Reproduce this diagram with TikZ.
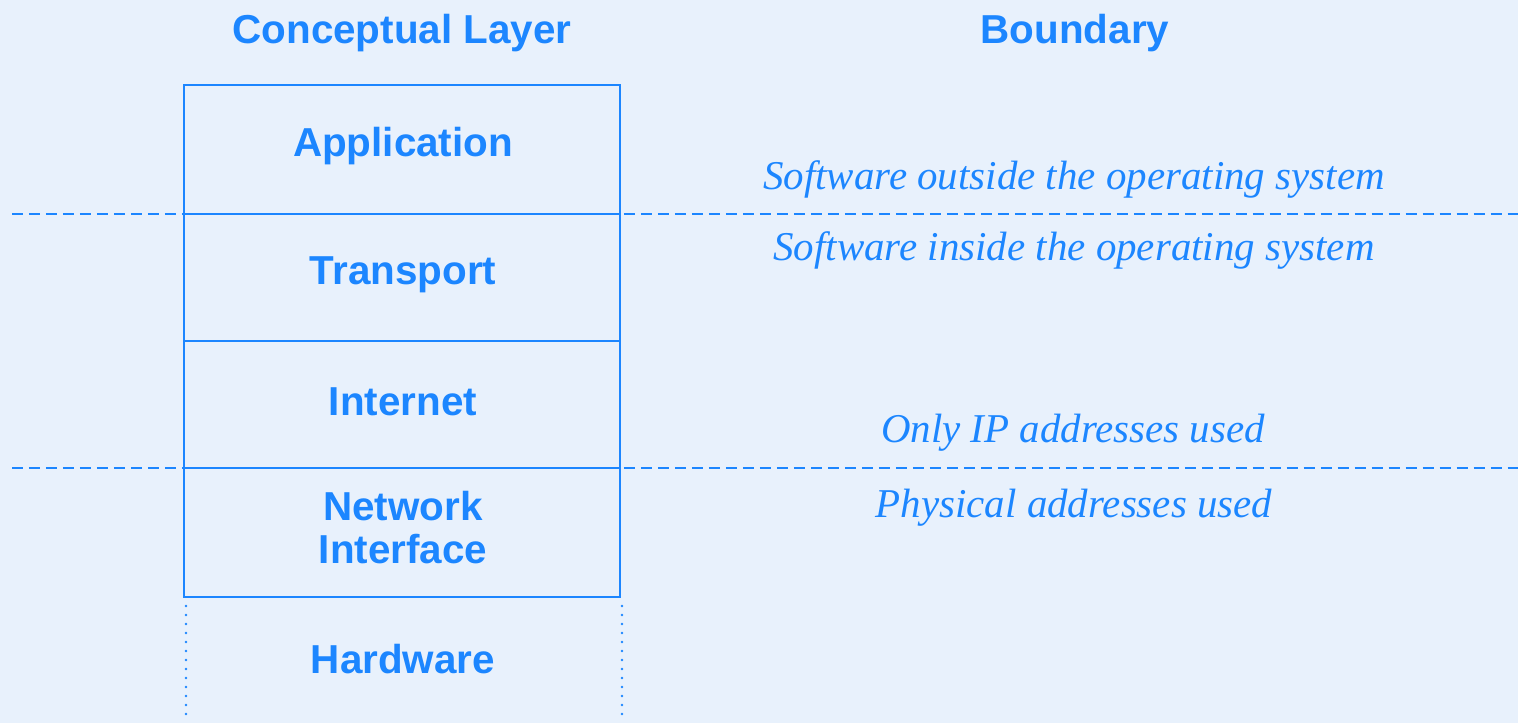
\documentclass[tikz,border=0pt]{standalone}
\usepackage{fontspec}
\setmainfont{Liberation Serif}
\setsansfont{Liberation Sans}
\definecolor{bgc}{HTML}{E8F1FC}
\definecolor{bl}{HTML}{1C86FF}
\begin{document}
\begin{tikzpicture}[x=0.02cm,y=-0.02cm,
  layer/.style={font=\sffamily\bfseries\fontsize{23}{24.5}\selectfont, text=bl, align=center},
  bound/.style={font=\itshape\fontsize{23.3}{27}\selectfont, text=bl},
  boxline/.style={draw=bl, line width=1.5pt},
  sepline/.style={draw=bl, line width=1.5pt, dash pattern=on 0.22cm off 0.12cm},
  dotline/.style={draw=bl, line width=1.6pt, dash pattern=on 0pt off 0.18cm, line cap=round}]
\fill[bgc] (0,0) rectangle (1518,723);
\useasboundingbox (0,0) rectangle (1518,723);
% headers
\node[layer] (hcl) at (402,33) {Conceptual Layer};
\node[layer] (hbd) at (1075,33) {Boundary};
% coordinates
\coordinate (tl) at (184,85);
\coordinate (br) at (620,597);
\coordinate (s1l) at (12,214);
\coordinate (s1r) at (1518,214);
\coordinate (s2l) at (12,468);
\coordinate (s2r) at (1518,468);
\coordinate (l3a) at (184,341);
\coordinate (l3b) at (620,341);
\coordinate (hwla) at (186,606);
\coordinate (hwlb) at (186,715);
\coordinate (hwra) at (622,606);
\coordinate (hwrb) at (622,715);
% separators
\draw[sepline] (s1l) -- (s1r);
\draw[sepline] (s2l) -- (s2r);
% box
\draw[boxline] (tl) rectangle (br);
\draw[boxline] (184,214) -- (620,214);
\draw[boxline] (l3a) -- (l3b);
\draw[boxline] (184,468) -- (620,468);
\draw[dotline] (hwla) -- (hwlb);
\draw[dotline] (hwra) -- (hwrb);
% layer labels
\node[layer] (app) at (403,146) {Application};
\node[layer] (tra) at (403,275) {Transport};
\node[layer] (int) at (403,402) {Internet};
\node[layer] (net) at (403,528) {Network\\Interface};
\node[layer] (hw) at (403,659) {Hardware};
% boundary labels
\node[bound] (b1) at (1074,180) {Software outside the operating system};
\node[bound] (b2) at (1074,251) {Software inside the operating system};
\node[bound] (b3) at (1073,433) {Only IP addresses used};
\node[bound] (b4) at (1074,508) {Physical addresses used};
\end{tikzpicture}
\end{document}
